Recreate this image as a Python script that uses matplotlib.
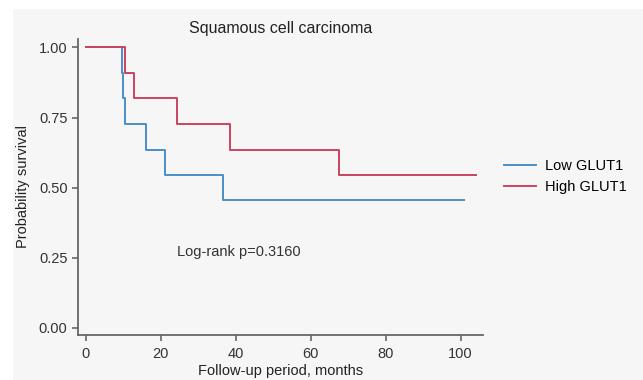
import matplotlib
matplotlib.use("Agg")
from matplotlib import pyplot as plt
from matplotlib.patches import Rectangle

plt.rcParams['font.family'] = ['Liberation Sans', 'DejaVu Sans']

# Kaplan-Meier steps (month, survival)
low_t = [0, 9.6, 10.1, 10.4, 16.2, 21.3, 36.6, 100.8]
low_s = [1.0, 0.909, 0.818, 0.727, 0.636, 0.545, 0.4545, 0.4545]
high_t = [0, 10.6, 12.8, 24.3, 38.5, 67.6, 104.0]
high_s = [1.0, 0.909, 0.818, 0.727, 0.636, 0.545, 0.545]

x_ticks = [0, 20, 40, 60, 80, 100]
y_ticks = [0.0, 0.25, 0.5, 0.75, 1.0]

bg = '#f6f6f6'
fig = plt.figure(figsize=(6.43, 3.80), dpi=100, facecolor=bg)
# white strips at top/left like the scanned figure
fig.add_artist(Rectangle((0, 1 - 8 / 380), 1, 8 / 380, transform=fig.transFigure, color='white', zorder=-1))
fig.add_artist(Rectangle((0, 0), 12 / 643, 1, transform=fig.transFigure, color='white', zorder=-1))

ax = fig.add_axes([78 / 643, 45 / 380, (483 - 78) / 643, (341 - 45) / 380])
ax.set_facecolor(bg)

ax.step(low_t, low_s, where='post', color='#4a8fc9', lw=1.4, label='Low GLUT1')
ax.step(high_t, high_s, where='post', color='#c8445f', lw=1.4, label='High GLUT1')

ax.set_xlim(-2, 106)
ax.set_ylim(-0.025, 1.03)
ax.set_xticks(x_ticks)
ax.set_yticks(y_ticks)
ax.set_yticklabels([f"{v:.2f}" for v in y_ticks])

for s in ['top', 'right']:
    ax.spines[s].set_visible(False)
for s in ['left', 'bottom']:
    ax.spines[s].set_color('#666666')
    ax.spines[s].set_linewidth(1.3)
ax.tick_params(colors='#666666', labelcolor='#333333', labelsize=10.5, length=4, width=1.2)
ax.tick_params(axis='x', pad=5)

ax.set_title('Squamous cell carcinoma', fontsize=11.5, color='#222222', pad=4)
ax.set_xlabel('Follow-up period, months', fontsize=10.5, color='#222222', labelpad=2)
ax.set_ylabel('Probability survival', fontsize=10.5, color='#222222', labelpad=6)

ax.text(24.5, 0.27, 'Log-rank p=0.3160', fontsize=10.5, color='#333333', va='center')

ax.legend(loc='center left', bbox_to_anchor=(1.02, 0.535), frameon=False, fontsize=10.5,
          handlelength=2.2, handletextpad=0.6, labelspacing=0.5)

fig.savefig('out.png', dpi=100, facecolor=bg)
